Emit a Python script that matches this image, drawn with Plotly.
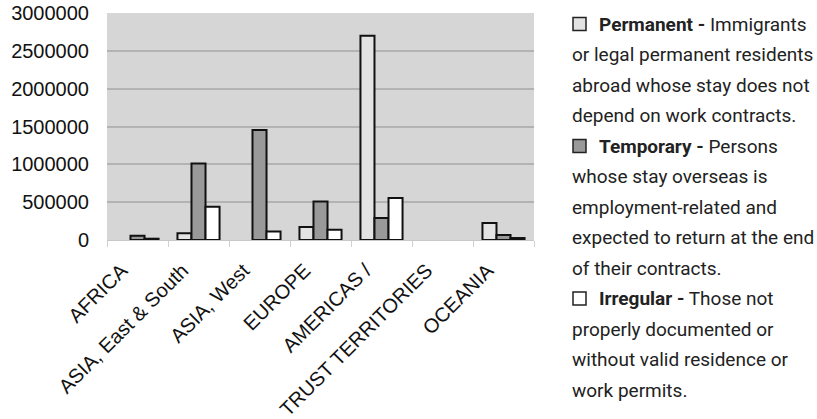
import plotly.graph_objects as go

# ---- data ----
categories = ["AFRICA", "ASIA, East & South", "ASIA, West", "EUROPE",
              "AMERICAS /", "TRUST TERRITORIES", "OCEANIA"]
permanent = [None, 90000, None, 172000, 2700000, None, 225000]
temporary = [57000, 1012000, 1455000, 510000, 290000, None, 66000]
irregular = [17000, 440000, 112000, 136000, 555000, None, 26000]
series_names = ["Permanent", "Temporary", "Irregular"]
y_ticks = [0, 500000, 1000000, 1500000, 2000000, 2500000, 3000000]

legend_blocks = [
    ("Permanent -", " Immigrants", ["or legal permanent residents",
                                    "abroad whose stay does not",
                                    "depend on work contracts."]),
    ("Temporary -", " Persons", ["whose stay overseas is",
                                 "employment-related and",
                                 "expected to return at the end",
                                 "of their contracts."]),
    ("Irregular -", " Those not", ["properly documented or",
                                   "without valid residence or",
                                   "work permits."]),
]

colors = ["#e3e3e3", "#999999", "#ffffff"]

W, H = 817, 419
L, R, T, B = 107, 534, 13, 240

fig = go.Figure()
for name, vals, col in zip(series_names, [permanent, temporary, irregular], colors):
    fig.add_trace(go.Bar(x=categories, y=vals, name=name,
                         marker=dict(color=col, line=dict(color="#111111", width=2))))

fig.update_layout(
    width=W, height=H,
    margin=dict(l=L, r=W - R, t=T, b=H - B, pad=0, autoexpand=False),
    paper_bgcolor="white", plot_bgcolor="#d6d6d6",
    barmode="group", bargap=0.31, bargroupgap=0,
    showlegend=False,
    font=dict(family="Liberation Sans, Arial", color="#111111"),
)
fig.update_yaxes(range=[0, 3000000], tickvals=y_ticks,
                 ticktext=[str(v) for v in y_ticks],
                 showgrid=True, gridcolor="#b3b3b3", gridwidth=1.5,
                 zeroline=False, showline=False, automargin=False,
                 tickfont=dict(size=20, family="Liberation Sans, Arial"),
                 ticks="", ticklabelstandoff=17)
fig.update_xaxes(tickangle=-45, tickson="boundaries", ticks="outside",
                 ticklen=6, tickcolor="#d0d0d0", tickwidth=1,
                 showline=True, linecolor="#c8c8c8", linewidth=1,
                 showgrid=False, automargin=False,
                 ticklabelstandoff=10, ticklabelshift=-16,
                 tickfont=dict(size=20, family="Liberation Sans, Arial"))

def px_x(p):
    return (p - L) / (R - L)

def px_y(p):
    return (B - p) / (B - T)

ann = []
shapes = []
line_h = 30.5
y0 = 24
i = 0
txt_font = dict(family="Roboto", size=19, color="#222222")
for (bold, rest, lines), col in zip(legend_blocks, colors):
    yc = y0 + line_h * i
    shapes.append(dict(type="rect", xref="paper", yref="paper",
                       x0=px_x(573), x1=px_x(586), y0=px_y(yc - 6.5), y1=px_y(yc + 6.5),
                       fillcolor=col, line=dict(color="#222222", width=1.5)))
    ann.append(dict(xref="paper", yref="paper", x=px_x(597), y=px_y(yc),
                    xanchor="left", yanchor="middle", showarrow=False,
                    text="<b>" + bold + "</b>" + rest, font=txt_font))
    i += 1
    for ln in lines:
        yc = y0 + line_h * i
        ann.append(dict(xref="paper", yref="paper", x=px_x(570), y=px_y(yc),
                        xanchor="left", yanchor="middle", showarrow=False,
                        text=ln, font=txt_font))
        i += 1

fig.update_layout(annotations=ann, shapes=shapes)
fig.write_html("out.html")
